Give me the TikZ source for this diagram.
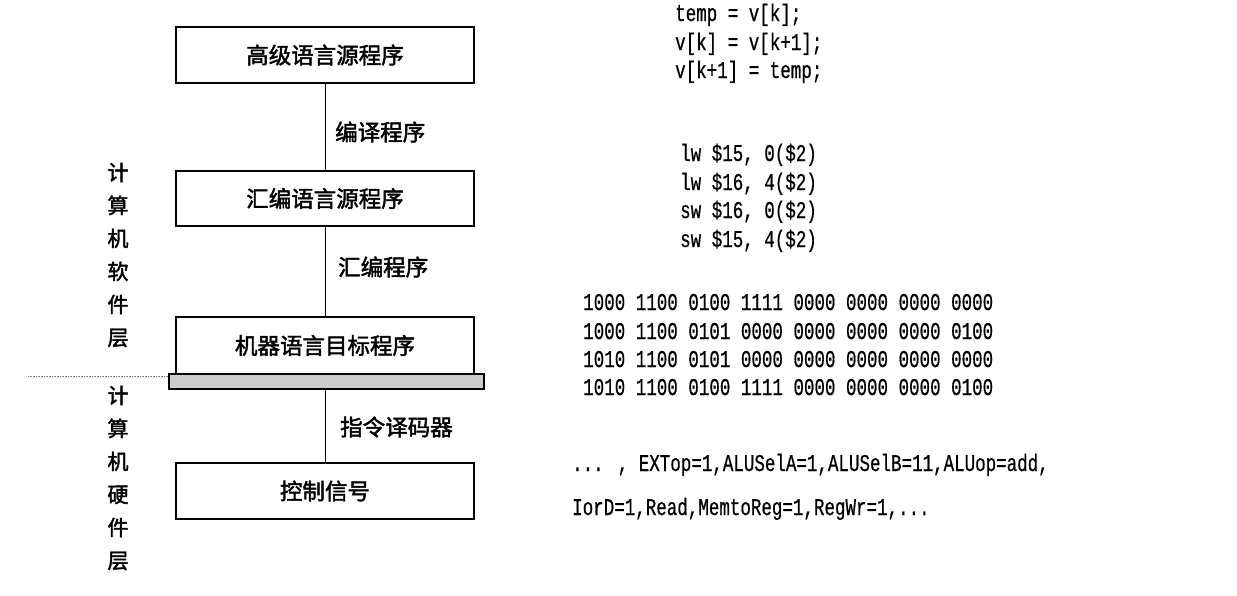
\documentclass[tikz,border=0pt]{standalone}
\usepackage{fontspec}
\newfontfamily\cjk{Noto Sans CJK SC}[FakeBold=2]
\newfontfamily\code{Liberation Mono}[FakeStretch=0.73,FakeBold=0.6]
\begin{document}
\begin{tikzpicture}[x=1pt,y=-1pt,
  level/.style={draw, line width=1.2pt, minimum width=298pt, inner sep=0pt, font=\cjk\fontsize{22.5}{22.5}\selectfont},
  link/.style={line width=0.9pt},
  stage/.style={anchor=west, inner sep=0pt, font=\cjk\fontsize{22.5}{22.5}\selectfont},
  layer/.style={align=center, inner sep=0pt, font=\cjk\fontsize{21}{33}\selectfont},
  codeline/.style={anchor=base west, inner sep=0pt, font=\code\fontsize{24}{24}\selectfont}]
\useasboundingbox (0,0) rectangle (1237,595);

% the four levels of program representation
\node[level, minimum height=56pt] (hll) at (325,55) {高级语言源程序};
\node[level, minimum height=55pt] (asm) at (325,198.5) {汇编语言源程序};
\node[level, minimum height=57pt] (mach) at (325,345.5) {机器语言目标程序};
\node[draw, line width=1.2pt, fill=gray!40, minimum width=315pt, minimum height=15pt, inner sep=0pt] (bar) at (326.5,381.5) {};
\node[level, minimum height=56pt] (ctrl) at (325,491) {控制信号};

% translation steps between levels
\draw[link] (hll.south) -- (asm.north);
\draw[link] (asm.south) -- (mach.north);
\draw[link] (ctrl.north |- bar.south) -- (ctrl.north);
\node[stage] (compiler) at (335,132) {编译程序};
\node[stage] (assembler) at (338,267) {汇编程序};
\node[stage] (decoder) at (340,427) {指令译码器};

% software / hardware boundary
\coordinate (cut) at (28,376);
\draw[gray, line width=0.6pt, densely dotted] (cut) -- (bar.west |- cut);
\node[layer] (sw) at (118,255) {计\\算\\机\\软\\件\\层};
\node[layer] (hw) at (118,478) {计\\算\\机\\硬\\件\\层};

% high-level source
\node[codeline] (c1) at (675,21) {temp = v[k];};
\node[codeline] (c2) at (675,50) {v[k] = v[k+1];};
\node[codeline] (c3) at (675,78) {v[k+1] = temp;};

% assembly
\node[codeline] (a1) at (680,161) {lw \$15, 0(\$2)};
\node[codeline] (a2) at (680,190) {lw \$16, 4(\$2)};
\node[codeline] (a3) at (680,218) {sw \$16, 0(\$2)};
\node[codeline] (a4) at (680,247) {sw \$15, 4(\$2)};

% machine code
\node[codeline] (m1) at (583,310) {1000 1100 0100 1111 0000 0000 0000 0000};
\node[codeline] (m2) at (583,339) {1000 1100 0101 0000 0000 0000 0000 0100};
\node[codeline] (m3) at (583,367) {1010 1100 0101 0000 0000 0000 0000 0000};
\node[codeline] (m4) at (583,395) {1010 1100 0100 1111 0000 0000 0000 0100};

% control signals
\node[codeline] (s1) at (572,471) {... , EXTop=1,ALUSelA=1,ALUSelB=11,ALUop=add,};
\node[codeline] (s2) at (572,515) {IorD=1,Read,MemtoReg=1,RegWr=1,...};
\end{tikzpicture}
\end{document}
